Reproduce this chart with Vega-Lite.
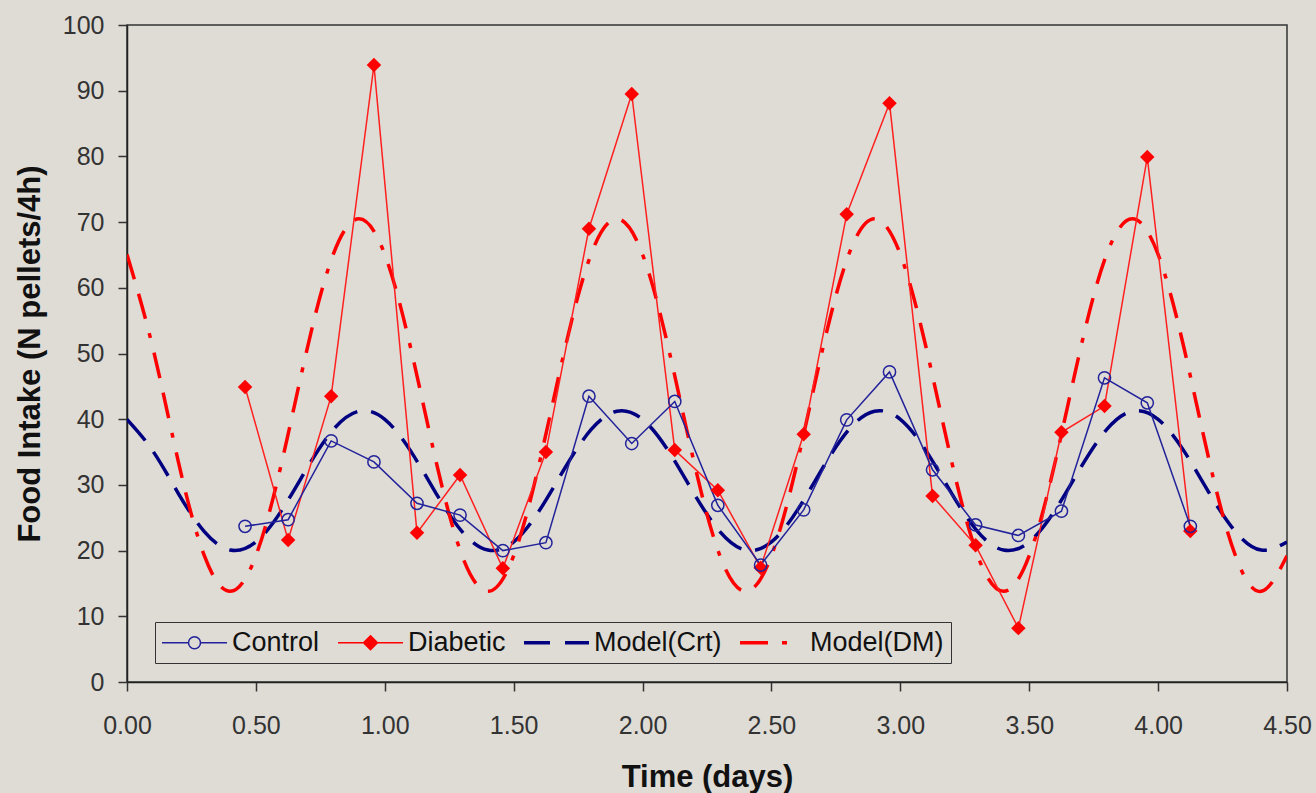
{
  "$schema": "https://vega.github.io/schema/vega-lite/v6.json",
  "autosize": {"type": "none"},
  "width": 1160,
  "height": 657,
  "padding": {"left": 127, "top": 25, "right": 29, "bottom": 111},
  "background": "#dfdcd6",
  "config": {
    "view": {"stroke": "#333333", "strokeWidth": 1.5},
    "axis": {
      "labelFont": "Liberation Sans",
      "labelFontSize": 25,
      "labelColor": "#333333",
      "titleFont": "Liberation Sans",
      "titleFontSize": 31,
      "titleFontWeight": "bold",
      "titleColor": "#111111",
      "domainColor": "#222222",
      "domainWidth": 1.5,
      "tickColor": "#333333",
      "tickWidth": 1.5,
      "tickSize": 9,
      "grid": false
    }
  },
  "datasets": {
    "obs": [
      {"t": 0.458, "series": "Control", "v": 23.7},
      {"t": 0.625, "series": "Control", "v": 24.7},
      {"t": 0.792, "series": "Control", "v": 36.7},
      {"t": 0.958, "series": "Control", "v": 33.5},
      {"t": 1.125, "series": "Control", "v": 27.2},
      {"t": 1.292, "series": "Control", "v": 25.4},
      {"t": 1.458, "series": "Control", "v": 20.0},
      {"t": 1.625, "series": "Control", "v": 21.2},
      {"t": 1.792, "series": "Control", "v": 43.5},
      {"t": 1.958, "series": "Control", "v": 36.3},
      {"t": 2.125, "series": "Control", "v": 42.7},
      {"t": 2.292, "series": "Control", "v": 26.9},
      {"t": 2.458, "series": "Control", "v": 17.8},
      {"t": 2.625, "series": "Control", "v": 26.2},
      {"t": 2.792, "series": "Control", "v": 39.9},
      {"t": 2.958, "series": "Control", "v": 47.2},
      {"t": 3.125, "series": "Control", "v": 32.3},
      {"t": 3.292, "series": "Control", "v": 23.9},
      {"t": 3.458, "series": "Control", "v": 22.3},
      {"t": 3.625, "series": "Control", "v": 26.0},
      {"t": 3.792, "series": "Control", "v": 46.3},
      {"t": 3.958, "series": "Control", "v": 42.5},
      {"t": 4.125, "series": "Control", "v": 23.7},
      {"t": 0.458, "series": "Diabetic", "v": 44.9},
      {"t": 0.625, "series": "Diabetic", "v": 21.6},
      {"t": 0.792, "series": "Diabetic", "v": 43.5},
      {"t": 0.958, "series": "Diabetic", "v": 93.9},
      {"t": 1.125, "series": "Diabetic", "v": 22.7},
      {"t": 1.292, "series": "Diabetic", "v": 31.5},
      {"t": 1.458, "series": "Diabetic", "v": 17.3},
      {"t": 1.625, "series": "Diabetic", "v": 35.0},
      {"t": 1.792, "series": "Diabetic", "v": 69.0},
      {"t": 1.958, "series": "Diabetic", "v": 89.5},
      {"t": 2.125, "series": "Diabetic", "v": 35.3},
      {"t": 2.292, "series": "Diabetic", "v": 29.2},
      {"t": 2.458, "series": "Diabetic", "v": 17.4},
      {"t": 2.625, "series": "Diabetic", "v": 37.7},
      {"t": 2.792, "series": "Diabetic", "v": 71.2},
      {"t": 2.958, "series": "Diabetic", "v": 88.1},
      {"t": 3.125, "series": "Diabetic", "v": 28.3},
      {"t": 3.292, "series": "Diabetic", "v": 20.8},
      {"t": 3.458, "series": "Diabetic", "v": 8.2},
      {"t": 3.625, "series": "Diabetic", "v": 38.0},
      {"t": 3.792, "series": "Diabetic", "v": 42.0},
      {"t": 3.958, "series": "Diabetic", "v": 79.9},
      {"t": 4.125, "series": "Diabetic", "v": 23.0}
    ],
    "model": [
      {"t": 0.0, "crt": 39.98, "dm": 65.08},
      {"t": 0.1, "crt": 35.18, "dm": 50.91},
      {"t": 0.2, "crt": 28.65, "dm": 33.39},
      {"t": 0.3, "crt": 22.89, "dm": 19.22},
      {"t": 0.4, "crt": 20.08, "dm": 13.80},
      {"t": 0.5, "crt": 21.32, "dm": 19.22},
      {"t": 0.6, "crt": 26.12, "dm": 33.39},
      {"t": 0.7, "crt": 32.65, "dm": 50.91},
      {"t": 0.8, "crt": 38.41, "dm": 65.08},
      {"t": 0.9, "crt": 41.22, "dm": 70.50},
      {"t": 1.0, "crt": 39.98, "dm": 65.08},
      {"t": 1.1, "crt": 35.18, "dm": 50.91},
      {"t": 1.2, "crt": 28.65, "dm": 33.39},
      {"t": 1.3, "crt": 22.89, "dm": 19.22},
      {"t": 1.4, "crt": 20.08, "dm": 13.80},
      {"t": 1.5, "crt": 21.32, "dm": 19.22},
      {"t": 1.6, "crt": 26.12, "dm": 33.39},
      {"t": 1.7, "crt": 32.65, "dm": 50.91},
      {"t": 1.8, "crt": 38.41, "dm": 65.08},
      {"t": 1.9, "crt": 41.22, "dm": 70.50},
      {"t": 2.0, "crt": 39.98, "dm": 65.08},
      {"t": 2.1, "crt": 35.18, "dm": 50.91},
      {"t": 2.2, "crt": 28.65, "dm": 33.39},
      {"t": 2.3, "crt": 22.89, "dm": 19.22},
      {"t": 2.4, "crt": 20.08, "dm": 13.80},
      {"t": 2.5, "crt": 21.32, "dm": 19.22},
      {"t": 2.6, "crt": 26.12, "dm": 33.39},
      {"t": 2.7, "crt": 32.65, "dm": 50.91},
      {"t": 2.8, "crt": 38.41, "dm": 65.08},
      {"t": 2.9, "crt": 41.22, "dm": 70.50},
      {"t": 3.0, "crt": 39.98, "dm": 65.08},
      {"t": 3.1, "crt": 35.18, "dm": 50.91},
      {"t": 3.2, "crt": 28.65, "dm": 33.39},
      {"t": 3.3, "crt": 22.89, "dm": 19.22},
      {"t": 3.4, "crt": 20.08, "dm": 13.80},
      {"t": 3.5, "crt": 21.32, "dm": 19.22},
      {"t": 3.6, "crt": 26.12, "dm": 33.39},
      {"t": 3.7, "crt": 32.65, "dm": 50.91},
      {"t": 3.8, "crt": 38.41, "dm": 65.08},
      {"t": 3.9, "crt": 41.22, "dm": 70.50},
      {"t": 4.0, "crt": 39.98, "dm": 65.08},
      {"t": 4.1, "crt": 35.18, "dm": 50.91},
      {"t": 4.2, "crt": 28.65, "dm": 33.39},
      {"t": 4.3, "crt": 22.89, "dm": 19.22},
      {"t": 4.4, "crt": 20.08, "dm": 13.80},
      {"t": 4.5, "crt": 21.32, "dm": 19.22}
    ]
  },
  "encoding": {
    "x": {
      "field": "t",
      "type": "quantitative",
      "scale": {"domain": [0, 4.5], "nice": false},
      "axis": {
        "title": "Time (days)",
        "values": [0, 0.5, 1, 1.5, 2, 2.5, 3, 3.5, 4, 4.5],
        "format": ".2f",
        "labelFlush": false,
        "labelOverlap": false,
        "labelPadding": 22,
        "titlePadding": 24
      }
    }
  },
  "layer": [
    {
      "data": {"name": "model"},
      "mark": {"type": "line", "color": "#000080", "strokeWidth": 3.5, "strokeDash": [28, 14], "interpolate": "natural", "clip": true},
      "encoding": {
        "y": {
          "field": "crt",
          "type": "quantitative",
          "scale": {"domain": [0, 100], "nice": false},
          "axis": {
            "title": "Food Intake (N pellets/4h)",
            "values": [0, 10, 20, 30, 40, 50, 60, 70, 80, 90, 100],
            "labelPadding": 14,
            "titlePadding": 16
          }
        }
      }
    },
    {
      "data": {"name": "model"},
      "mark": {"type": "line", "color": "#ff0000", "strokeWidth": 3.5, "strokeDash": [26, 15, 26, 15, 5, 15], "interpolate": "natural", "clip": true},
      "encoding": {"y": {"field": "dm", "type": "quantitative"}}
    },
    {
      "data": {"name": "obs"},
      "transform": [{"filter": "datum.series === 'Diabetic'"}],
      "mark": {"type": "line", "color": "#ff2020", "strokeWidth": 1.5},
      "encoding": {"y": {"field": "v", "type": "quantitative"}}
    },
    {
      "data": {"name": "obs"},
      "transform": [{"filter": "datum.series === 'Control'"}],
      "mark": {"type": "line", "color": "#22229a", "strokeWidth": 1.5},
      "encoding": {"y": {"field": "v", "type": "quantitative"}}
    },
    {
      "data": {"name": "obs"},
      "transform": [{"filter": "datum.series === 'Diabetic'"}],
      "mark": {"type": "point", "shape": "diamond", "filled": true, "color": "#ff0000", "size": 210, "opacity": 1},
      "encoding": {"y": {"field": "v", "type": "quantitative"}}
    },
    {
      "data": {"name": "obs"},
      "transform": [{"filter": "datum.series === 'Control'"}],
      "mark": {"type": "point", "shape": "circle", "filled": false, "color": "#22229a", "strokeWidth": 1.5, "size": 150, "opacity": 1},
      "encoding": {"y": {"field": "v", "type": "quantitative"}}
    },
    {
      "data": {"name": "obs"},
      "mark": {"type": "point", "filled": false, "opacity": 0, "size": 400, "strokeWidth": 1.5},
      "encoding": {
        "y": {"field": "v", "type": "quantitative"},
        "color": {
          "field": "series",
          "type": "nominal",
          "scale": {"domain": ["Control", "Diabetic", "Model(Crt)", "Model(DM)"], "range": ["#22229a", "#ff0000", "#000080", "#ff0000"]},
          "legend": {
            "title": null,
            "orient": "none",
            "legendX": 28,
            "legendY": 597,
            "direction": "horizontal",
            "padding": 7,
            "strokeColor": "#333333",
            "fillColor": "#dfdcd6",
            "symbolSize": 400,
            "symbolStrokeWidth": 1.5,
            "labelFont": "Liberation Sans",
            "labelFontSize": 27,
            "labelColor": "#111111",
            "labelOffset": 43,
            "columnPadding": 15,
            "labelLimit": 300,
            "encode": {
              "legend": {"update": {"strokeWidth": {"value": 2}}},
              "symbols": {"update": {"opacity": {"value": 1}}}
            }
          }
        },
        "shape": {
          "field": "series",
          "type": "nominal",
          "scale": {
            "domain": ["Control", "Diabetic", "Model(Crt)", "Model(DM)"],
            "range": [
              "M-1.35,0H1.3M2.5,0H5.15M1.3,0A0.6,0.6 0 1 1 2.5,0A0.6,0.6 0 1 1 1.3,0Z",
              "M-1.35,0H5.15M1.9,-0.7L2.6,0L1.9,0.7L1.2,0ZM1.85,-0.6H1.95M1.75,-0.48H2.05M1.63,-0.36H2.17M1.51,-0.24H2.29M1.39,-0.12H2.41M1.39,0.12H2.41M1.51,0.24H2.29M1.63,0.36H2.17M1.75,0.48H2.05M1.85,0.6H1.95",
              "M-1.35,-0.1H1.25M-1.35,0H1.25M-1.35,0.1H1.25M2.75,-0.1H5.15M2.75,0H5.15M2.75,0.1H5.15",
              "M-1.35,-0.1H1.45M-1.35,0H1.45M-1.35,0.1H1.45M2.85,-0.1H3.35M2.85,0H3.35M2.85,0.1H3.35"
            ]
          },
          "legend": {
            "title": null,
            "orient": "none",
            "legendX": 28,
            "legendY": 597,
            "direction": "horizontal"
          }
        }
      }
    }
  ]
}
